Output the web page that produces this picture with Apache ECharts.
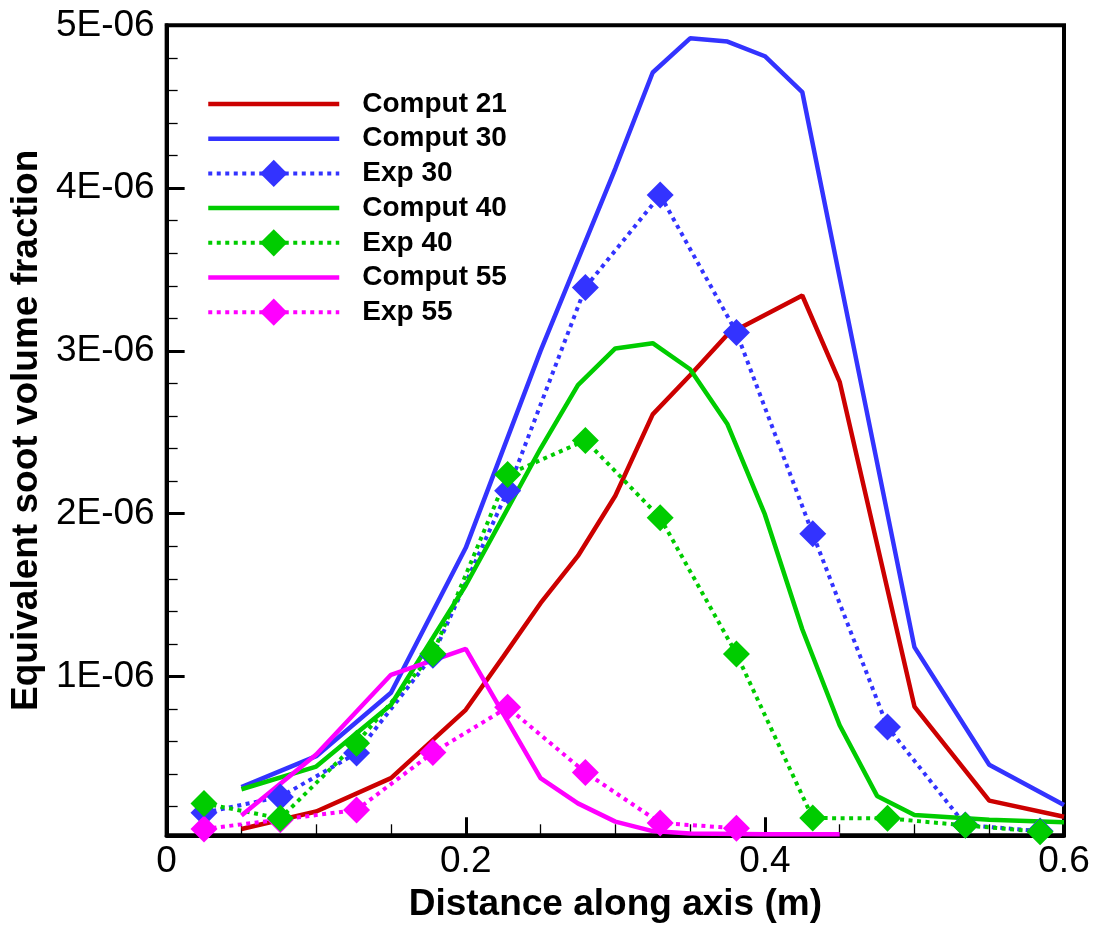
<!DOCTYPE html>
<html>
<head>
<meta charset="utf-8">
<title>Equivalent soot volume fraction</title>
<script src="https://cdn.jsdelivr.net/npm/echarts@6/dist/echarts.min.js"></script>
<style>
  html, body { margin: 0; padding: 0; background: #ffffff; }
  #chart { width: 1100px; height: 932px; }
</style>
</head>
<body>
<div id="chart"></div>
<script>
// Axial distance (m) for each computed profile
const comput21X = [0.05, 0.1, 0.15, 0.2, 0.225, 0.25, 0.275, 0.3, 0.325, 0.35, 0.375, 0.4, 0.425, 0.45, 0.5, 0.55, 0.6];
const comput21Y = [0.063e-6, 0.17e-6, 0.375e-6, 0.795e-6, 1.12e-6, 1.45e-6, 1.74e-6, 2.11e-6, 2.61e-6, 2.85e-6, 3.10e-6, 3.22e-6, 3.34e-6, 2.81e-6, 0.815e-6, 0.237e-6, 0.138e-6];

const comput30X = [0.05, 0.1, 0.15, 0.2, 0.25, 0.3, 0.325, 0.35, 0.375, 0.4, 0.425, 0.45, 0.5, 0.55, 0.6];
const comput30Y = [0.32e-6, 0.51e-6, 0.90e-6, 1.79e-6, 3.0e-6, 4.12e-6, 4.71e-6, 4.92e-6, 4.90e-6, 4.81e-6, 4.59e-6, 3.45e-6, 1.18e-6, 0.457e-6, 0.21e-6];

const comput40X = [0.05, 0.1, 0.15, 0.2, 0.225, 0.25, 0.275, 0.3, 0.325, 0.35, 0.375, 0.4, 0.425, 0.45, 0.475, 0.5, 0.55, 0.6];
const comput40Y = [0.307e-6, 0.446e-6, 0.826e-6, 1.56e-6, 1.98e-6, 2.40e-6, 2.79e-6, 3.015e-6, 3.047e-6, 2.887e-6, 2.549e-6, 1.995e-6, 1.29e-6, 0.70e-6, 0.266e-6, 0.149e-6, 0.12e-6, 0.104e-6];

const comput55X = [0.05, 0.1, 0.15, 0.2, 0.25, 0.275, 0.3, 0.325, 0.35, 0.4, 0.45];
const comput55Y = [0.145e-6, 0.52e-6, 1.01e-6, 1.17e-6, 0.375e-6, 0.22e-6, 0.108e-6, 0.05e-6, 0.035e-6, 0.03e-6, 0.03e-6];

// Measurement stations (m)
const expX = [0.025, 0.076, 0.127, 0.178, 0.228, 0.28, 0.33, 0.381, 0.432, 0.482, 0.534, 0.584];
const exp30Y = [0.163e-6, 0.26e-6, 0.529e-6, 1.13e-6, 2.14e-6, 3.39e-6, 3.957e-6, 3.113e-6, 1.876e-6, 0.69e-6, 0.087e-6, 0.05e-6];
const exp40Y = [0.22e-6, 0.128e-6, 0.59e-6, 1.14e-6, 2.24e-6, 2.45e-6, 1.975e-6, 1.138e-6, 0.13e-6, 0.128e-6, 0.085e-6, 0.046e-6];
const exp55X = [0.025, 0.076, 0.127, 0.178, 0.228, 0.28, 0.33, 0.381];
const exp55Y = [0.063e-6, 0.12e-6, 0.18e-6, 0.532e-6, 0.81e-6, 0.41e-6, 0.10e-6, 0.067e-6];

// Axis ticks
const xTickLabels = ['0', '0.2', '0.4', '0.6'];
const yMajorTicks = [1e-6, 2e-6, 3e-6, 4e-6, 5e-6];
const yMinorTicks = [0.2e-6, 0.4e-6, 0.6e-6, 0.8e-6, 1.2e-6, 1.4e-6, 1.6e-6, 1.8e-6, 2.2e-6, 2.4e-6, 2.6e-6, 2.8e-6,
                     3.2e-6, 3.4e-6, 3.6e-6, 3.8e-6, 4.2e-6, 4.4e-6, 4.6e-6, 4.8e-6];

const legendNames = ['Comput 21', 'Comput 30', 'Exp 30', 'Comput 40', 'Exp 40', 'Comput 55', 'Exp 55'];

const FONT = '"Liberation Sans", Arial, Helvetica, sans-serif';
const Y_MIN = 0.024e-6;
const Y_MAX = 5e-6;

function pairs(xs, ys) {
  return xs.map((x, i) => [x, ys[i]]);
}

function computed(name, xs, ys, color) {
  return {
    name: name, type: 'line', data: pairs(xs, ys),
    symbol: 'none', showSymbol: false,
    lineStyle: { color: color, width: 4.5 },
    itemStyle: { color: color },
    emphasis: { disabled: true },
    animation: false
  };
}

function measured(name, xs, ys, color) {
  return {
    name: name, type: 'line', data: pairs(xs, ys),
    symbol: 'diamond', symbolSize: 27, showSymbol: true,
    lineStyle: { color: color, width: 4, type: [4, 4.5] },
    itemStyle: { color: color },
    emphasis: { disabled: true },
    animation: false
  };
}

const chart = echarts.init(document.getElementById('chart'), null, { renderer: 'canvas' });

chart.setOption({
  backgroundColor: '#ffffff',
  animation: false,
  grid: {
    left: 164.5, right: 36, top: 25.3, bottom: 96.7,
    show: true, borderColor: '#000000', borderWidth: 4, backgroundColor: 'transparent'
  },
  legend: {
    orient: 'vertical', left: 201, top: 85,
    itemWidth: 131, itemHeight: 34, itemGap: 6.7,
    selectedMode: false,
    lineStyle: { width: 'inherit' },
    textStyle: { fontFamily: FONT, fontSize: 28, lineHeight: 27, fontWeight: 'bold', color: '#000000', padding: [0, 0, 0, 18] },
    // computed profiles are plain lines in the key
    data: legendNames.map((n) => n.indexOf('Comput') === 0
      ? { name: n, itemStyle: { opacity: 0 } }
      : { name: n })
  },
  xAxis: {
    type: 'value', min: 0, max: 0.6, interval: 0.2,
    name: 'Distance along axis (m)', nameLocation: 'middle', nameGap: 51,
    nameTextStyle: { fontFamily: FONT, fontSize: 37, fontWeight: 'bold', color: '#000000' },
    axisLine: { show: true, lineStyle: { color: '#000000', width: 4 } },
    axisTick: { show: true, inside: true, length: 18, lineStyle: { color: '#000000', width: 3 } },
    minorTick: { show: true, splitNumber: 4, length: 11, lineStyle: { color: '#000000', width: 1.3 } },
    axisLabel: {
      fontFamily: FONT, fontSize: 37, color: '#000000', margin: 8,
      formatter: (v) => xTickLabels[Math.round(v / 0.2)]
    },
    splitLine: { show: false }
  },
  yAxis: [
    {
      type: 'value', min: Y_MIN, max: Y_MAX, position: 'left',
      name: 'Equivalent soot volume fraction', nameLocation: 'middle', nameGap: 114,
      nameTextStyle: { fontFamily: FONT, fontSize: 37, fontWeight: 'bold', color: '#000000' },
      axisLine: { show: true, lineStyle: { color: '#000000', width: 4 } },
      axisTick: { show: true, inside: true, length: 18, lineStyle: { color: '#000000', width: 3 }, customValues: yMajorTicks },
      axisLabel: {
        fontFamily: FONT, fontSize: 37, color: '#000000', margin: 12,
        customValues: yMajorTicks,
        formatter: (v) => Math.round(v * 1e6) + 'E-06'
      },
      splitLine: { show: false }
    },
    {
      // minor ticks along the left edge
      type: 'value', min: Y_MIN, max: Y_MAX, position: 'left',
      axisLine: { show: false },
      axisTick: { show: true, inside: true, length: 11, lineStyle: { color: '#000000', width: 1.3 }, customValues: yMinorTicks },
      axisLabel: { show: false },
      splitLine: { show: false }
    }
  ],
  // drawing order: later series sit on top
  series: [
    computed('Comput 21', comput21X, comput21Y, '#cc0000'),
    computed('Comput 30', comput30X, comput30Y, '#3333ff'),
    measured('Exp 30', expX, exp30Y, '#3333ff'),
    computed('Comput 40', comput40X, comput40Y, '#00cc00'),
    measured('Exp 55', exp55X, exp55Y, '#ff00ff'),
    measured('Exp 40', expX, exp40Y, '#00cc00'),
    computed('Comput 55', comput55X, comput55Y, '#ff00ff')
  ]
});
</script>
</body>
</html>
